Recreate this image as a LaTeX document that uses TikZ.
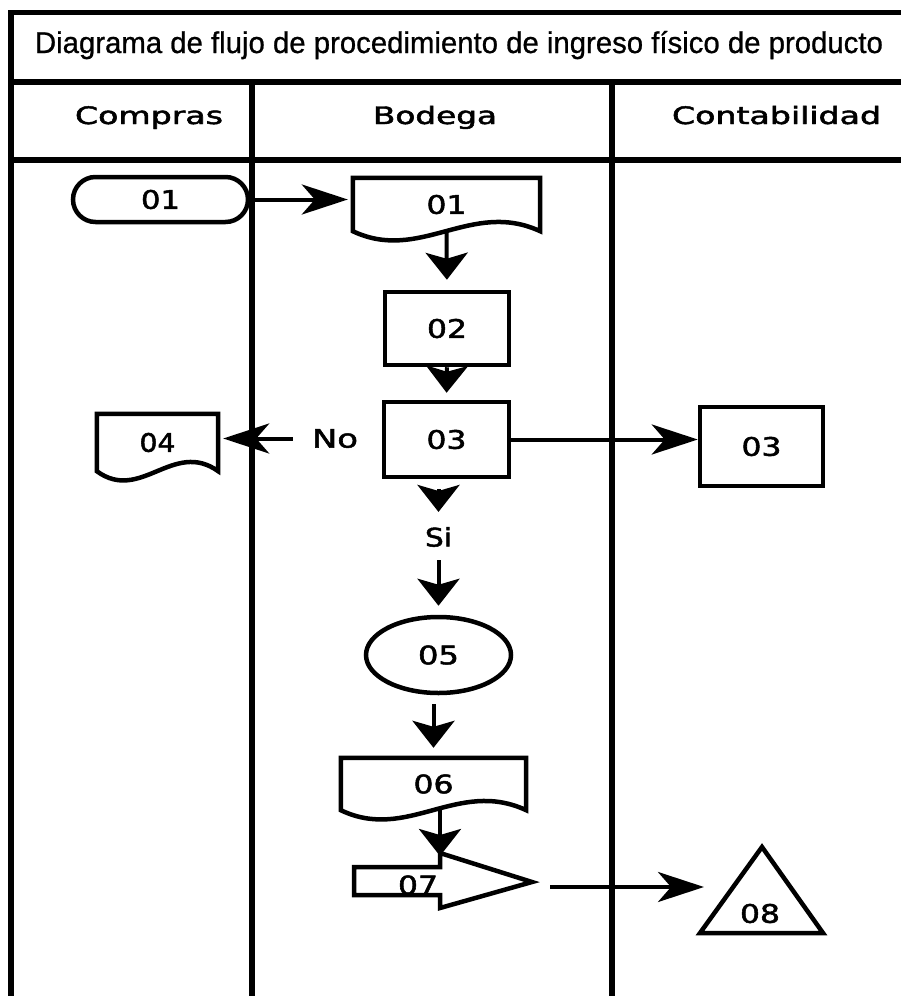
\documentclass[tikz,border=0pt]{standalone}
\usepackage{fontspec}
\usepackage{graphicx}
\usetikzlibrary{arrows.meta,calc,shapes.misc,shapes.geometric}
\newfontfamily\titlefont{Liberation Sans}[FakeBold=0.8]
\newfontfamily\boxfont{DejaVu Sans}[FakeBold=1.8]
% set a text to a given width, keeping its natural height
\newcommand\fitw[2]{\resizebox{#1pt}{\height}{#2}}
% outline of a document symbol drawn round a named rectangle node
\newcommand\docoutline[1]{%
  \draw[shapeline] (#1.north west) -- (#1.north east) -- (#1.south east)
    .. controls ($(#1.south east)!0.37!(#1.south west)+(0,-32)$)
           and ($(#1.south east)!0.64!(#1.south west)+(0,32)$) .. (#1.south west) -- cycle;}

\tikzset{
  frame/.style={line width=5.5pt, line cap=rect},
  shapeline/.style={line width=4.5pt, line join=miter},
  outline/.style={draw, line width=4.5pt},
  conn/.style={line width=4pt},
  harrow/.style={conn, -{Stealth[length=46pt, width=30pt, inset=13pt]}},
  varrow/.style={conn, -{Stealth[length=27pt, width=42pt, inset=6pt]}},
  lbl/.style={inner sep=0pt, font=\boxfont\fontsize{25.5}{27}\selectfont},
  hdr/.style={inner sep=0pt, anchor=base, font=\boxfont\fontsize{24}{26}\selectfont},
}

\begin{document}
\begin{tikzpicture}[x=1pt,y=-1pt]
\useasboundingbox (0,0) rectangle (900,996);
\fill[white] (0,0) rectangle (900,996);

% swimlane frame
\draw[frame] (900,12.5) -- (11,12.5) -- (11,996);
\draw[frame] (11,82) -- (900,82);
\draw[frame] (11,160) -- (900,160);
\draw[frame] (252,82) -- (252,996);
\draw[frame] (612,82) -- (612,996);

% title and lane headers
\node[anchor=base, inner sep=0pt, font=\titlefont\fontsize{30}{33}\selectfont] (title) at (459,53)
  {\fitw{848}{Diagrama de flujo de procedimiento de ingreso físico de producto}};
\node[hdr] (hcompras) at (149,124) {\fitw{148}{Compras}};
\node[hdr] (hbodega) at (435,124) {\fitw{124}{Bodega}};
\node[hdr] (hconta) at (776.5,124) {\fitw{209}{Contabilidad}};

% Compras
\node[outline, rounded rectangle, lbl, minimum width=175pt, minimum height=45pt] (t01) at (160.5,199.5) {\fitw{39}{01}};
\node[lbl, minimum width=121pt, minimum height=57pt] (d04) at (157.5,442.5) {\fitw{36}{04}};
\docoutline{d04}

% Bodega
\node[lbl, minimum width=187pt, minimum height=53pt] (d01) at (446.5,204.5) {\fitw{40}{01}};
\docoutline{d01}
\node[outline, rectangle, lbl, minimum width=124pt, minimum height=73pt] (b02) at (447,328.5) {\fitw{40}{02}};
\node[outline, rectangle, lbl, minimum width=125pt, minimum height=75pt] (b03) at (446.5,439.5) {\fitw{40}{03}};
\node[lbl] (no) at (335,438.5) {\fitw{46}{No}};
\node[lbl] (si) at (438.5,537) {\fitw{27}{Si}};
\node[outline, ellipse, lbl, minimum width=145pt, minimum height=76pt] (e05) at (438.5,655) {\fitw{41}{05}};
\node[lbl, minimum width=185pt, minimum height=52pt] (d06) at (433.5,784) {\fitw{40}{06}};
\docoutline{d06}

% off-page connector 07
\coordinate (c07in) at (440,856);
\coordinate (c07tip) at (532,882);
\draw[shapeline] (354,867) -- (440,867) -- (440,853) -- (c07tip) -- (440,908) -- (440,895) -- (354,895) -- cycle;
\node[lbl] (n07) at (418,885) {\fitw{40}{07}};

% Contabilidad
\node[outline, rectangle, lbl, minimum width=123pt, minimum height=79pt] (c03) at (761.5,446.5) {\fitw{40}{03}};
\draw[shapeline] (762,847) -- (823,933) -- (700,933) -- cycle;
\node[lbl] (t08) at (760,913.5) {\fitw{40}{08}};

% connectors
\draw[harrow, shorten >=5pt] (t01.east) -- (t01.east -| d01.west);
\draw[varrow, shorten >=10pt] (d01.south) -- (b02.north);
\draw[varrow, shorten >=7pt] (b02.south) -- (b03.north);
\draw[harrow, shorten <=19pt, shorten >=5pt] (no.west) -- (no.west -| d04.east);
\draw[harrow] (b03.east) -- (b03.east -| c03.west);
\draw[varrow, shorten <=10pt, shorten >=15pt] (b03.south -| si.north) -- (si.north);
\draw[varrow, shorten <=13pt, shorten >=9pt] (si.south) -- (e05.north);
\draw[varrow, shorten <=9pt, shorten >=10pt] (e05.south -| d06.north) -- (d06.north);
\draw[varrow] (d06.south -| c07in) -- (c07in);
\coordinate (c07out) at (550,887);
\coordinate (c08in) at (704,887);
\draw[harrow] (c07out) -- (c08in);
\end{tikzpicture}
\end{document}
